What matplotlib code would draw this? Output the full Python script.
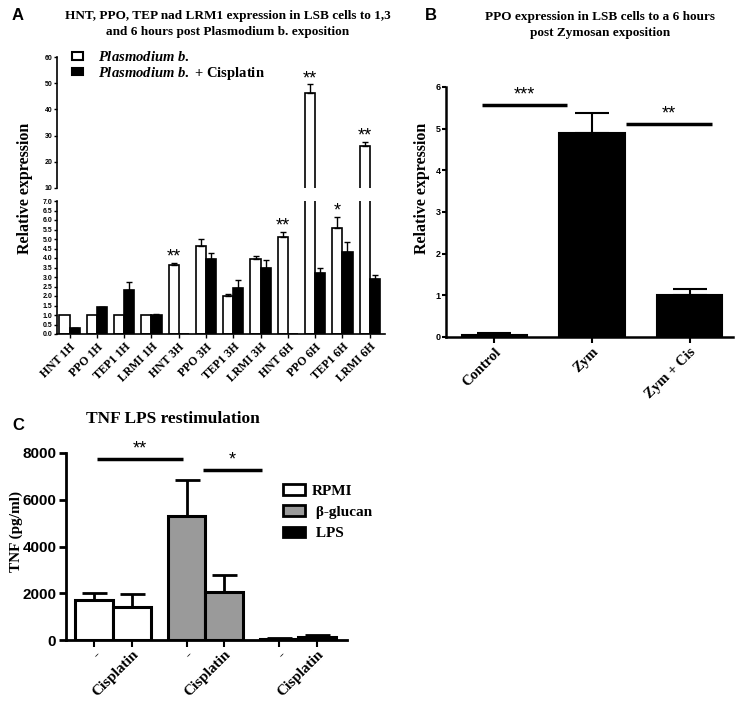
import numpy as np
import matplotlib
matplotlib.use('Agg')
import matplotlib.pyplot as plt
from matplotlib.patches import Patch

plt.rcParams['mathtext.fontset'] = 'custom'
plt.rcParams['mathtext.it'] = 'Liberation Serif:italic:bold'
plt.rcParams['mathtext.rm'] = 'Liberation Serif:bold'

SERIF = 'Liberation Serif'
SANS = 'Liberation Sans'

# ---- panel A data
genes_a = ['HNT 1H', 'PPO 1H', 'TEP1 1H', 'LRMI 1H', 'HNT 3H', 'PPO 3H',
           'TEP1 3H', 'LRMI 3H', 'HNT 6H', 'PPO 6H', 'TEP1 6H', 'LRMI 6H']
plasmo = [1.0, 1.0, 1.0, 1.0, 3.65, 4.62, 1.98, 3.97, 5.13, 46.4, 5.6, 26.0]
plasmo_err = [0, 0, 0, 0, 0.11, 0.37, 0.12, 0.11, 0.26, 3.2, 0.58, 1.7]
cis = [0.3, 1.4, 2.33, 1.0, 0.0, 3.96, 2.44, 3.45, 0.0, 3.19, 4.29, 2.9]
cis_err = [0.03, 0.03, 0.4, 0.07, 0, 0.31, 0.38, 0.42, 0, 0.28, 0.54, 0.18]
stars_a = ['', '', '', '', '**', '', '', '', '**', '**', '*', '**']

# ---- panel B data
cats_b = ['Control', 'Zym', 'Zym + Cis']
ppo_b = [0.04, 4.9, 1.0]
ppo_b_err = [0.06, 0.48, 0.15]
# (start, end, height, label)
sig_b = [(-0.13, 0.74, 5.56, '***'), (1.35, 2.23, 5.11, '**')]

# ---- panel C data
groups_c = ['RPMI', ' β-glucan', ' LPS']
colors_c = ['white', '#9a9a9a', 'black']
tnf_ctrl = [1710, 5310, 60]
tnf_ctrl_err = [320, 1540, 30]
tnf_cis = [1430, 2060, 140]
tnf_cis_err = [540, 720, 70]
ticks_c = ['-', 'Cisplatin'] * 3
sig_c = [(-0.17, 0.76, 7750, '**'), (0.97, 1.61, 7280, '*')]

W, H = 743, 703
fig = plt.figure(figsize=(W / 100, H / 100), dpi=100)


def box(x0, y0, x1, y1):
    # pixel box -> figure fraction rect
    return [x0 / W, 1 - y1 / H, (x1 - x0) / W, (y1 - y0) / H]


def ytick_font(ax, size):
    for lab in ax.get_yticklabels():
        lab.set_fontfamily(SANS)
        lab.set_fontweight('bold')
        lab.set_fontsize(size)


# ================= A =================
ax_top = fig.add_axes(box(57, 57, 385, 188))
ax_low = fig.add_axes(box(57, 201, 385, 334))
x = np.arange(len(genes_a))
w = 0.37
pe = np.array(plasmo_err)
ce = np.array(cis_err)
for ax in (ax_top, ax_low):
    ax.bar(x - w / 2, plasmo, w, color='white', edgecolor='black', linewidth=1.2)
    ax.bar(x + w / 2, cis, w, color='black', edgecolor='black', linewidth=1.2)
    m = pe > 0
    ax.errorbar(x[m] - w / 2, np.array(plasmo)[m], yerr=[np.zeros(m.sum()), pe[m]],
                fmt='none', ecolor='black', elinewidth=1, capsize=2, capthick=1)
    m = ce > 0
    ax.errorbar(x[m] + w / 2, np.array(cis)[m], yerr=[np.zeros(m.sum()), ce[m]],
                fmt='none', ecolor='black', elinewidth=1, capsize=2, capthick=1)
    ax.set_xlim(-0.46, 11.56)
    for s in ['top', 'right']:
        ax.spines[s].set_visible(False)
    ax.spines['left'].set_linewidth(1.2)
    ax.tick_params(axis='y', length=2.5, width=1, pad=1)

ax_top.set_ylim(10, 60)
ax_top.set_yticks(np.arange(10, 61, 10))
ax_top.spines['bottom'].set_visible(False)
ax_top.set_xticks([])
ytick_font(ax_top, 5)

ax_low.set_ylim(0, 7)
ax_low.set_yticks(np.arange(0, 7.01, 0.5))
ax_low.set_yticklabels(['%.1f' % v for v in np.arange(0, 7.01, 0.5)])
ax_low.spines['bottom'].set_linewidth(1.2)
ax_low.set_xticks(x)
ax_low.set_xticklabels(genes_a, rotation=45, ha='right', rotation_mode='anchor',
                       family=SERIF, fontweight='bold', fontsize=8.5)
ax_low.tick_params(axis='x', length=3, width=1, pad=2)
ytick_font(ax_low, 5)

for i, s in enumerate(stars_a):
    if not s:
        continue
    top = plasmo[i] + plasmo_err[i]
    ax = ax_top if top > 7 else ax_low
    ax.annotate(s, (i - w / 2, top), xytext=(0, -2), textcoords='offset points',
                ha='center', va='bottom', family=SANS, fontsize=13)

leg_a = ax_top.legend(
    handles=[Patch(facecolor='white', edgecolor='black', linewidth=1.5),
             Patch(facecolor='black', edgecolor='black', linewidth=1.5)],
    labels=[r'$\mathit{Plasmodium\ b.}$', r'$\mathit{Plasmodium\ b.}$ + Cisplatin'],
    loc='upper left', bbox_to_anchor=(72 / W, 1 - 50 / H), bbox_transform=fig.transFigure,
    frameon=False, borderpad=0, borderaxespad=0, handlelength=0.75, handleheight=0.45,
    handletextpad=1.0, labelspacing=0.05,
    prop={'family': SERIF, 'weight': 'bold', 'size': 10.5})

fig.text(228 / W, 1 - 24 / H,
         'HNT, PPO, TEP nad LRM1 expression in LSB cells to 1,3\nand 6 hours post Plasmodium b. exposition',
         ha='center', va='center', family=SERIF, fontweight='bold', fontsize=9.5, linespacing=1.45)
fig.text(25 / W, 1 - 188 / H, 'Relative expression', rotation=90, ha='center', va='center',
         family=SERIF, fontweight='bold', fontsize=11.5)
fig.text(12 / W, 1 - 15 / H, 'A', ha='left', va='center', family=SANS, fontweight='bold', fontsize=12)

# ================= B =================
ax_b = fig.add_axes(box(446, 87, 733, 337))
xb = np.arange(len(cats_b))
ax_b.bar(xb, ppo_b, 0.667, color='black', edgecolor='black', linewidth=1.5)
ax_b.errorbar(xb, ppo_b, yerr=[np.zeros(len(xb)), ppo_b_err], fmt='none', ecolor='black',
              elinewidth=1.5, capsize=12, capthick=1.5)
ax_b.set_xlim(-0.497, 2.446)
ax_b.set_ylim(0, 6)
ax_b.set_yticks(range(0, 7))
for s in ['top', 'right']:
    ax_b.spines[s].set_visible(False)
for s in ['left', 'bottom']:
    ax_b.spines[s].set_linewidth(1.8)
ax_b.tick_params(axis='y', length=3, width=1.5, pad=1)
ax_b.tick_params(axis='x', length=4, width=1.5, pad=2)
ax_b.set_xticks(xb)
ax_b.set_xticklabels(cats_b, rotation=45, ha='right', rotation_mode='anchor',
                     family=SERIF, fontweight='bold', fontsize=10.5)
ytick_font(ax_b, 6.5)
for x0, x1, yy, lab in sig_b:
    ax_b.plot([x0, x1], [yy, yy], color='black', lw=2.5, solid_capstyle='butt', clip_on=False)
    ax_b.text((x0 + x1) / 2, yy + 0.05, lab, ha='center', va='bottom', family=SANS, fontsize=13)
fig.text(600 / W, 1 - 25 / H, 'PPO expression in LSB cells to a 6 hours\npost Zymosan exposition',
         ha='center', va='center', family=SERIF, fontweight='bold', fontsize=9.5, linespacing=1.45)
fig.text(422 / W, 1 - 188 / H, 'Relative expression', rotation=90, ha='center', va='center',
         family=SERIF, fontweight='bold', fontsize=11.5)
fig.text(425 / W, 1 - 15 / H, 'B', ha='left', va='center', family=SANS, fontweight='bold', fontsize=12)

# ================= C =================
ax_c = fig.add_axes(box(66, 453, 347, 640))
xc = np.arange(len(groups_c))
bw = 0.41
ax_c.bar(xc - bw / 2, tnf_ctrl, bw, color=colors_c, edgecolor='black', linewidth=2.2, zorder=3)
ax_c.bar(xc + bw / 2, tnf_cis, bw, color=colors_c, edgecolor='black', linewidth=2.2, zorder=3)
ax_c.errorbar(xc - bw / 2, tnf_ctrl, yerr=[np.zeros(3), tnf_ctrl_err], fmt='none', ecolor='black',
              elinewidth=2, capsize=9, capthick=2, zorder=2)
ax_c.errorbar(xc + bw / 2, tnf_cis, yerr=[np.zeros(3), tnf_cis_err], fmt='none', ecolor='black',
              elinewidth=2, capsize=9, capthick=2, zorder=2)
ax_c.set_xlim(-0.508, 2.53)
ax_c.set_ylim(0, 8000)
ax_c.set_yticks(range(0, 8001, 2000))
for s in ['top', 'right']:
    ax_c.spines[s].set_visible(False)
for s in ['left', 'bottom']:
    ax_c.spines[s].set_linewidth(2)
ax_c.tick_params(axis='y', length=5, width=2, pad=2)
ax_c.tick_params(axis='x', length=5, width=1.5, pad=1)
ax_c.set_xticks(np.concatenate([[g - bw / 2, g + bw / 2] for g in xc]))
ax_c.set_xticklabels(ticks_c, rotation=45, ha='right', rotation_mode='anchor',
                     family=SERIF, fontweight='bold', fontsize=11)
ytick_font(ax_c, 11)
for x0, x1, yy, lab in sig_c:
    ax_c.plot([x0, x1], [yy, yy], color='black', lw=2.5, solid_capstyle='butt', clip_on=False)
    ax_c.text((x0 + x1) / 2, yy + 60, lab, ha='center', va='bottom', family=SANS, fontsize=13)
ax_c.legend(handles=[Patch(facecolor=c, edgecolor='black', linewidth=2) for c in colors_c],
            labels=groups_c, loc='upper left', bbox_to_anchor=(283 / W, 1 - 484 / H),
            bbox_transform=fig.transFigure, frameon=False, borderpad=0, borderaxespad=0,
            handlelength=1.45, handleheight=0.7, handletextpad=0.45, labelspacing=0.5,
            prop={'family': SERIF, 'weight': 'bold', 'size': 11})
fig.text(173 / W, 1 - 419 / H, 'TNF LPS restimulation', ha='center', va='center',
         family=SERIF, fontweight='bold', fontsize=12.5)
fig.text(16 / W, 1 - 532 / H, 'TNF (pg/ml)', rotation=90, ha='center', va='center',
         family=SERIF, fontweight='bold', fontsize=11)
fig.text(12 / W, 1 - 425 / H, 'C', ha='left', va='center', family=SANS, fontweight='bold', fontsize=12)

fig.savefig('out.png', dpi=100)
